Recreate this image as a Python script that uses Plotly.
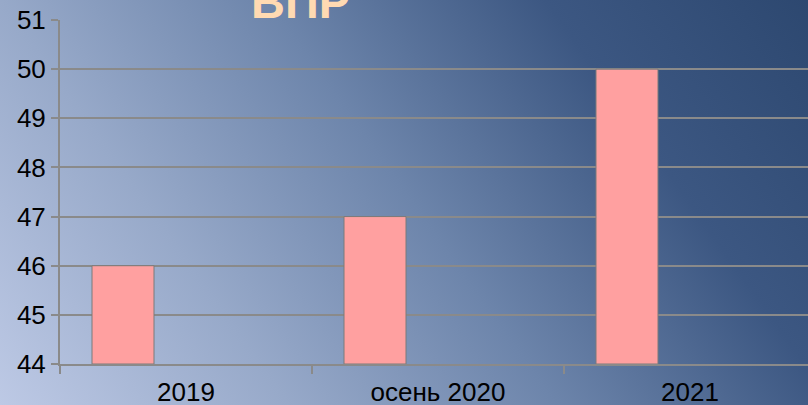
import base64
import plotly.graph_objects as go

categories = ["2019", "осень 2020", "2021"]
values = [46, 47, 50]
y_ticks = [44, 45, 46, 47, 48, 49, 50, 51]
title_text = "ВПР"

W, H = 808, 405
ML, MR, MT, MB = 60, 0, 20, 41
PW, PH = W - ML - MR, H - MT - MB
Y0 = 44

svg = f"""<svg xmlns="http://www.w3.org/2000/svg" width="{W}" height="{H}" viewBox="0 0 {W} {H}" preserveAspectRatio="none">
<defs><linearGradient id="g" gradientUnits="userSpaceOnUse" x1="0" y1="{H}" x2="738" y2="-120">
<stop offset="0" stop-color="#bdc9e5"/>
<stop offset="0.26" stop-color="#97a9c9"/>
<stop offset="0.5" stop-color="#6d85ab"/>
<stop offset="0.75" stop-color="#3c5782"/>
<stop offset="1" stop-color="#2c476f"/>
</linearGradient></defs>
<rect width="{W}" height="{H}" fill="url(#g)"/></svg>"""
bg_src = "data:image/svg+xml;base64," + base64.b64encode(svg.encode()).decode()

fig = go.Figure()
fig.add_trace(go.Bar(
    x=categories, y=[v - Y0 for v in values], base=Y0,
    width=0.246, offset=-0.373,
    marker=dict(color="#ffa0a0", line=dict(color="#7a7a7a", width=1)),
))

fig.add_layout_image(dict(
    source=bg_src, xref="paper", yref="paper",
    x=-ML / PW, y=1 + MT / PH, sizex=W / PW, sizey=H / PH,
    xanchor="left", yanchor="top", sizing="stretch", layer="below",
))

fig.add_annotation(
    text=f"<b>{title_text}</b>", xref="paper", yref="paper",
    x=(300 - ML) / PW, y=1 - 10 / PH, xanchor="center", yanchor="bottom",
    showarrow=False, font=dict(family="Liberation Sans, Arial", size=47, color="#ffdab2"),
)

fig.update_layout(
    width=W, height=H,
    margin=dict(l=ML, r=MR, t=MT, b=MB, autoexpand=False),
    paper_bgcolor="#6d85ab", plot_bgcolor="rgba(0,0,0,0)",
    showlegend=False,
    font=dict(family="Liberation Sans, Arial", color="black"),
)
fig.update_xaxes(
    range=[-0.5, -0.5 + PW / 252], showgrid=False, automargin=False,
    tickson="boundaries", ticks="outside", ticklen=8, tickcolor="#8a8a8a", tickwidth=2,
    showline=True, linecolor="#8a8a8a", linewidth=2,
    tickfont=dict(size=26, color="black"), ticklabelstandoff=4,
)
fig.update_yaxes(
    range=[44, 51], tickvals=y_ticks, showgrid=True, gridcolor="#8a8a8a", gridwidth=2,
    ticks="outside", ticklen=7, tickcolor="#8a8a8a", tickwidth=2, automargin=False,
    showline=True, linecolor="#8a8a8a", linewidth=2, zeroline=False,
    tickfont=dict(size=26, color="black"),
)
fig.write_html("out.html", config={"displayModeBar": False},
               post_script="document.body.style.margin='0';")
